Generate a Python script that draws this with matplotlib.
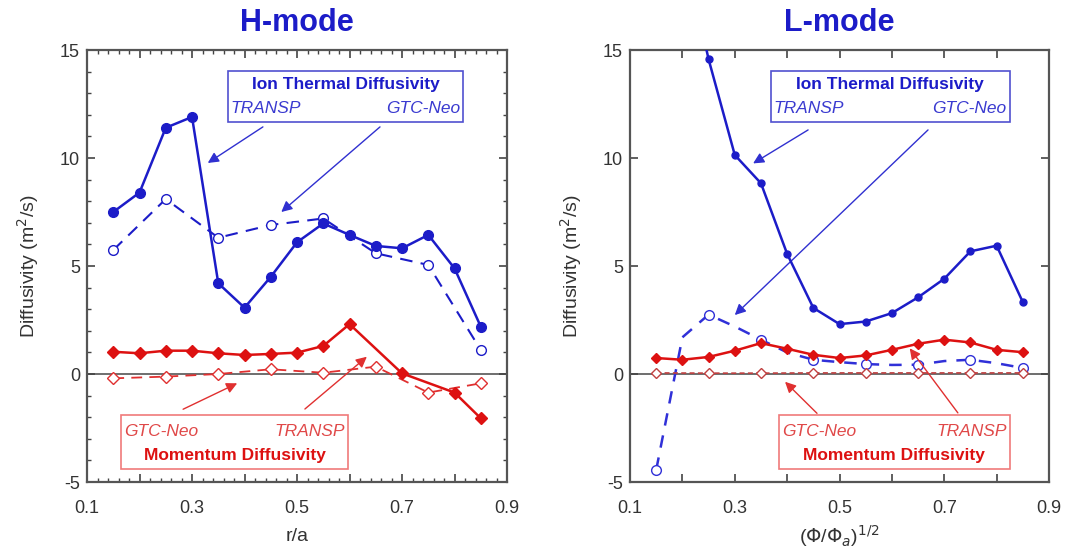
import matplotlib
matplotlib.use('Agg')
from matplotlib import pyplot as plt
from matplotlib.ticker import FixedLocator, MultipleLocator, FixedFormatter

plt.rcParams['font.family'] = ['Liberation Sans', 'DejaVu Sans']
plt.rcParams['axes.unicode_minus'] = False

BLUE = '#1c1cc8'
RED = '#dd1111'
PINK = '#f07a7a'

# ---- H-mode (r/a) ----
h_x = [0.15, 0.20, 0.25, 0.30, 0.35, 0.40, 0.45, 0.50, 0.55, 0.60, 0.65, 0.70, 0.75, 0.80, 0.85]
h_ion_transp = [7.5, 8.4, 11.4, 11.9, 4.2, 3.07, 4.5, 6.1, 6.97, 6.44, 5.93, 5.82, 6.44, 4.89, 2.19]

h_x_neo = [0.15, 0.25, 0.35, 0.45, 0.55, 0.65, 0.75, 0.85]
h_ion_neo = [5.74, 8.1, 6.31, 6.9, 7.2, 5.59, 5.05, 1.11]

h_x_mom = [0.15, 0.20, 0.25, 0.30, 0.35, 0.40, 0.45, 0.50, 0.55, 0.60, 0.70, 0.80, 0.85]
h_mom_transp = [1.03, 0.96, 1.08, 1.08, 0.96, 0.88, 0.93, 0.99, 1.3, 2.31, 0.03, -0.86, -2.05]
h_mom_neo = [-0.2, -0.12, 0.0, 0.22, 0.06, 0.34, -0.86, -0.43]

# ---- L-mode ((Phi/Phi_a)^1/2) ----
l_x = [0.20, 0.25, 0.30, 0.35, 0.40, 0.45, 0.50, 0.55, 0.60, 0.65, 0.70, 0.75, 0.80, 0.85]
l_ion_transp = [20.0, 14.57, 10.14, 8.83, 5.56, 3.06, 2.31, 2.43, 2.82, 3.55, 4.41, 5.68, 5.94, 3.33]

l_x_neo = [0.15, 0.20, 0.25, 0.30, 0.35, 0.40, 0.45, 0.50, 0.55, 0.60, 0.65, 0.70, 0.75, 0.80, 0.85]
l_ion_neo = [-4.43, 1.7, 2.75, 2.2, 1.59, 1.0, 0.66, 0.55, 0.46, 0.42, 0.43, 0.6, 0.66, 0.5, 0.28]

l_x_mom = [0.15, 0.20, 0.25, 0.30, 0.35, 0.40, 0.45, 0.50, 0.55, 0.60, 0.65, 0.70, 0.75, 0.80, 0.85]
l_mom_transp = [0.74, 0.66, 0.79, 1.08, 1.43, 1.17, 0.89, 0.74, 0.86, 1.12, 1.4, 1.59, 1.46, 1.12, 1.01]
l_x_mom_neo = [0.15, 0.25, 0.35, 0.45, 0.55, 0.65, 0.75, 0.85]
l_mom_neo = [0.05, 0.04, 0.04, 0.05, 0.05, 0.05, 0.05, 0.05]

x_labels = ['0.1', '', '0.3', '', '0.5', '', '0.7', '', '0.9']
x_major = [0.1, 0.2, 0.3, 0.4, 0.5, 0.6, 0.7, 0.8, 0.9]


def style_axes(ax, minor):
    ax.set_xlim(0.1, 0.9)
    ax.set_ylim(-5, 15)
    ax.xaxis.set_major_locator(FixedLocator(x_major))
    ax.xaxis.set_major_formatter(FixedFormatter(x_labels))
    ax.yaxis.set_major_locator(MultipleLocator(5))
    if minor:
        ax.xaxis.set_minor_locator(MultipleLocator(0.02))
        ax.yaxis.set_minor_locator(MultipleLocator(1))
    ax.tick_params(which='both', direction='in', top=True, right=True,
                   colors='#444444', labelcolor='#333333', labelsize=13)
    ax.tick_params(which='major', length=6, width=1.2)
    ax.tick_params(which='minor', length=3, width=1)
    ax.tick_params(axis='x', which='major', pad=13)
    ax.tick_params(axis='y', which='major', pad=5)
    for s in ax.spines.values():
        s.set_color('#555555')
        s.set_linewidth(1.6)
    ax.axhline(0, color='#555555', lw=1.2, zorder=1)
    ax.set_ylabel('Diffusivity (m$^2$/s)', fontsize=14, color='#333333', labelpad=14)


def legend_boxes(ax, bx, rx, blue_arrows, red_arrows):
    # blue box (ion thermal)
    ax.add_patch(plt.Rectangle((bx[0], 11.65), bx[1] - bx[0], 2.4, fill=False,
                               ec='#5050d0', lw=1.2, zorder=5))
    ax.text((bx[0] + bx[1]) / 2, 13.4, 'Ion Thermal Diffusivity', color=BLUE,
            fontsize=12.5, fontweight='bold', ha='center', va='center')
    ax.text(bx[0] + 0.004, 12.3, 'TRANSP', color='#3a3ad0', fontsize=12.5,
            style='italic', ha='left', va='center')
    ax.text(bx[1] - 0.006, 12.3, 'GTC-Neo', color='#3a3ad0', fontsize=12.5,
            style='italic', ha='right', va='center')
    # red box (momentum)
    ax.add_patch(plt.Rectangle((rx[0], -4.4), rx[1] - rx[0], 2.5, fill=False,
                               ec=PINK, lw=1.2, zorder=5))
    ax.text(rx[0] + 0.006, -2.65, 'GTC-Neo', color='#e04848', fontsize=12.5,
            style='italic', ha='left', va='center')
    ax.text(rx[1] - 0.006, -2.65, 'TRANSP', color='#e04848', fontsize=12.5,
            style='italic', ha='right', va='center')
    ax.text((rx[0] + rx[1]) / 2, -3.75, 'Momentum Diffusivity', color=RED,
            fontsize=12.5, fontweight='bold', ha='center', va='center')
    for (tail, head) in blue_arrows:
        ax.annotate('', xy=head, xytext=tail,
                    arrowprops=dict(arrowstyle='-|>', color='#3030d0', lw=1,
                                    mutation_scale=16, shrinkA=0, shrinkB=0))
    for (tail, head) in red_arrows:
        ax.annotate('', xy=head, xytext=tail,
                    arrowprops=dict(arrowstyle='-|>', color='#e03030', lw=1,
                                    mutation_scale=16, shrinkA=0, shrinkB=0))


fig = plt.figure(figsize=(10.77, 5.55), dpi=100)
ax1 = fig.add_axes([0.0808, 0.1315, 0.39, 0.7784])
ax2 = fig.add_axes([0.585, 0.1315, 0.389, 0.7784])

# H-mode
style_axes(ax1, True)
ax1.plot(h_x, h_ion_transp, '-o', color=BLUE, lw=1.8, ms=7, zorder=4)
ax1.plot(h_x_neo, h_ion_neo, '--o', color=BLUE, lw=1.5, ms=7, mfc='white', zorder=3,
         dashes=(6, 4))
ax1.plot(h_x_mom, h_mom_transp, '-D', color=RED, lw=1.8, ms=6, zorder=4)
ax1.plot(h_x_neo, h_mom_neo, '--D', color='#e03030', lw=1.3, ms=6, mfc='white', zorder=3,
         dashes=(6, 4))
ax1.set_xlabel('r/a', fontsize=14, color='#333333', labelpad=8)
ax1.set_title('H-mode', fontsize=22, fontweight='bold', color=BLUE, pad=14)
legend_boxes(ax1, (0.369, 0.816), (0.165, 0.597),
             [((0.435, 11.44), (0.330, 9.77)), ((0.658, 11.44), (0.470, 7.5))],
             [((0.283, -1.63), (0.386, -0.43)), ((0.515, -1.62), (0.633, 0.8))])

# L-mode
style_axes(ax2, False)
ax2.plot(l_x, l_ion_transp, '-o', color=BLUE, lw=1.8, ms=5, zorder=4)
ax2.plot(l_x_neo, l_ion_neo, '--o', color='#3030d8', lw=1.8, ms=7, mfc='white', zorder=3,
         markevery=2, dashes=(5, 4))
ax2.plot(l_x_mom, l_mom_transp, '-D', color=RED, lw=1.8, ms=5, zorder=4)
ax2.plot(l_x_mom_neo, l_mom_neo, '--D', color='#c04040', lw=1.2, ms=5, mfc='white',
         zorder=3, dashes=(3, 2))
ax2.set_xlabel('($\\Phi$/$\\Phi_a$)$^{1/2}$', fontsize=14, color='#333333', labelpad=4)
ax2.set_title('L-mode', fontsize=22, fontweight='bold', color=BLUE, pad=14)
legend_boxes(ax2, (0.369, 0.825), (0.384, 0.825),
             [((0.44, 11.3), (0.335, 9.75)), ((0.669, 11.3), (0.30, 2.73))],
             [((0.457, -1.82), (0.396, -0.36)), ((0.726, -1.8), (0.634, 1.19))])

fig.savefig('out.png', dpi=100)
plt.close(fig)
